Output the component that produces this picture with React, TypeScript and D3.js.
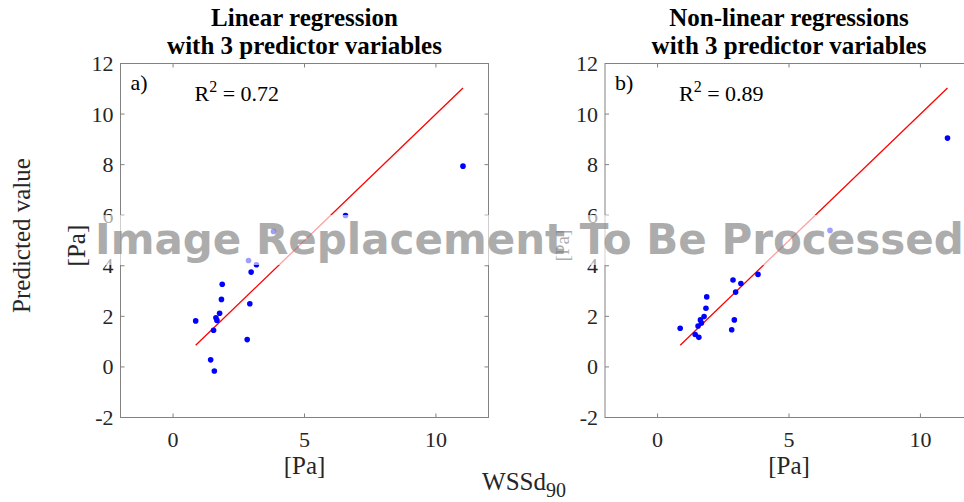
import * as d3 from 'd3'

// measured WSSd90 values (same for both panels)
const measured = [0.86, 1.43, 1.54, 1.57, 1.63, 1.67, 1.77, 1.84, 1.87, 2.82, 2.87, 2.92, 2.97, 3.17, 3.82, 6.56, 11.03]
const predictedLinear = [1.82, 0.28, 1.45, -0.16, 1.94, 1.84, 2.12, 2.67, 3.27, 1.08, 4.21, 2.5, 3.75, 4.04, 5.36, 5.99, 7.94]
const predictedNonLinear = [1.53, 1.28, 1.62, 1.17, 1.86, 1.74, 1.99, 2.32, 2.77, 1.47, 3.44, 1.86, 2.96, 3.3, 3.66, 5.4, 9.05]
const xTicks = [0, 5, 10]
const yTicks = [-2, 0, 2, 4, 6, 8, 10, 12]

const panels = [
  { label: 'a)', r2: '0.72', title: ['Linear regression', 'with 3 predictor variables'], values: predictedLinear, left: 120.5 },
  { label: 'b)', r2: '0.89', title: ['Non-linear regressions', 'with 3 predictor variables'], values: predictedNonLinear, left: 605 },
]

const W = 964
const H = 502
const top = 63.5
const bottom = 417.5
const plotW = 368
const font = '"Liberation Serif", "Times New Roman", serif'
const axisColor = '#828282'
const textColor = '#262626'

const Panel = ({ p }: { p: (typeof panels)[number] }) => {
  const x = d3.scaleLinear().domain([-2, 12]).range([p.left, p.left + plotW])
  const y = d3.scaleLinear().domain([-2, 12]).range([bottom, top])
  const [lo, hi] = d3.extent(measured) as [number, number]
  const line = d3.line<number>().x(d => x(d)).y(d => y(d))
  const cx = p.left + plotW / 2
  return (
    <g>
      <text x={cx} y={26} textAnchor="middle" fontFamily={font} fontWeight="bold" fontSize={25} fill="#000">
        {p.title[0]}
      </text>
      <text x={cx} y={54} textAnchor="middle" fontFamily={font} fontWeight="bold" fontSize={25} fill="#000">
        {p.title[1]}
      </text>
      <rect x={p.left} y={top} width={plotW} height={bottom - top} fill="none" stroke={axisColor} strokeWidth={1} />
      {xTicks.map(t => (
        <g key={'x' + t}>
          <line x1={x(t)} x2={x(t)} y1={bottom} y2={bottom - 4} stroke={axisColor} />
          <line x1={x(t)} x2={x(t)} y1={top} y2={top + 4} stroke={axisColor} />
          <text x={x(t)} y={447} textAnchor="middle" fontFamily={font} fontSize={22} fill={textColor}>
            {t}
          </text>
        </g>
      ))}
      {yTicks.map(t => (
        <g key={'y' + t}>
          <line x1={p.left} x2={p.left + 4} y1={y(t)} y2={y(t)} stroke={axisColor} />
          <line x1={p.left + plotW} x2={p.left + plotW - 4} y1={y(t)} y2={y(t)} stroke={axisColor} />
          <text x={p.left - 7} y={y(t) + 7.5} textAnchor="end" fontFamily={font} fontSize={22} fill={textColor}>
            {t}
          </text>
        </g>
      ))}
      <text x={cx} y={474} textAnchor="middle" fontFamily={font} fontSize={25} fill={textColor}>
        [Pa]
      </text>
      <text
        transform={`translate(${p.left - 36},${y(4.8)}) rotate(-90)`}
        textAnchor="middle"
        fontFamily={font}
        fontSize={p.label === 'a)' ? 25 : 19}
        fill={textColor}
      >
        [Pa]
      </text>
      <path d={line([lo, hi]) ?? ''} fill="none" stroke="#ff0000" strokeWidth={1.3} />
      {measured.map((m, i) => (
        <circle key={i} cx={x(m)} cy={y(p.values[i])} r={2.8} fill="#0000ff" />
      ))}
      <text x={p.left + 10} y={90} fontFamily={font} fontSize={22} fill="#000">
        {p.label}
      </text>
      <text x={p.left + 74} y={101} fontFamily={font} fontSize={22} fill="#000">
        R
        <tspan dy={-9} fontSize={16}>
          2
        </tspan>
        <tspan dy={9}> = {p.r2}</tspan>
      </text>
    </g>
  )
}

export default function App() {
  return (
    <svg width={W} height={H} style={{ position: 'absolute', left: 0, top: 0, background: '#fff' }}>
      <rect width={W} height={H} fill="#fff" />
      {panels.map(p => (
        <Panel key={p.label} p={p} />
      ))}
      <text
        transform={`translate(30,${(top + bottom) / 2 - 5}) rotate(-90)`}
        textAnchor="middle"
        fontFamily={font}
        fontSize={25}
        fill={textColor}
      >
        Predicted value
      </text>
      <text x={524} y={490} textAnchor="middle" fontFamily={font} fontSize={25} fill={textColor}>
        WSSd
        <tspan dy={7} fontSize={20}>
          90
        </tspan>
      </text>
      <rect x={93} y={215} width={W - 93} height={50} fill="#fff" opacity={0.62} />
      <text x={95} y={254} fontFamily='"DejaVu Sans", sans-serif' fontWeight="bold" fontSize={42} fill="#7a7a7a" opacity={0.62}>
        Image Replacement To Be Processed
      </text>
    </svg>
  )
}
